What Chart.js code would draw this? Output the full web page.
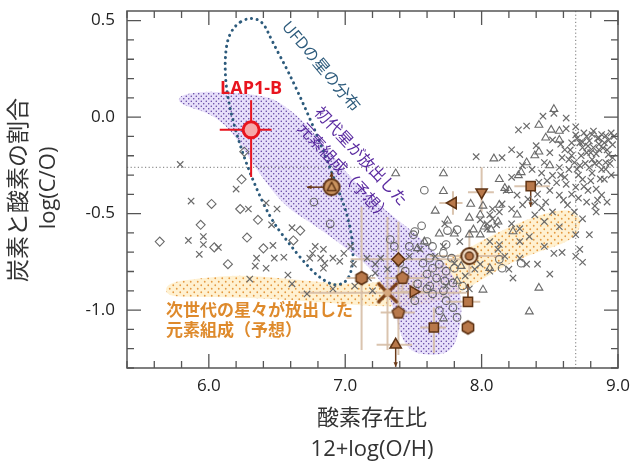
<!DOCTYPE html>
<html>
<head>
<meta charset="utf-8">
<script src="https://cdn.jsdelivr.net/npm/chart.js@4.4.1/dist/chart.umd.min.js"></script>
<style>
  html, body { margin: 0; padding: 0; background: #fff; }
  #wrap { width: 640px; height: 474px; }
</style>
</head>
<body>
<div id="wrap"><canvas id="c"></canvas></div>
<script>
// axis ticks
const xTickLabels = [6.0, 7.0, 8.0, 9.0];
const yTickLabels = [-1.0, -0.5, 0.0, 0.5];
const solarO = 8.69;
const solarCO = -0.26;

// gray comparison samples [12+log(O/H), log(C/O)]
const grayCross = [
  [5.79,-0.245],[5.87,-0.435],[6.20,-0.373],[6.29,-0.476],[5.85,-0.639],[5.96,-0.619],[5.96,-0.66],[5.93,-0.711],
  [6.07,-0.675],[6.42,-0.445],[6.50,-0.476],[6.46,-0.558],[6.61,-0.573],[6.47,-0.665],[6.35,-0.731],[6.34,-0.772],
  [6.42,-0.783],[6.48,-0.731],[6.55,-0.726],[6.30,-0.839],[6.58,-0.818],[6.61,-0.864],[6.72,-0.916],[6.76,-0.706],
  [6.78,-0.670],[6.84,-0.685],[6.91,-0.731],[6.99,-0.706],[7.04,-0.670],[6.84,-0.783],[6.74,-0.731],[6.91,-0.890],
  [6.82,-0.731],[6.85,-0.757],[6.96,-0.747],[7.06,-0.762],[7.16,-0.731],[7.22,-0.762],[7.26,-0.731],[7.22,-0.808],
  [7.17,-0.834],[7.31,-0.788],[7.20,-0.900],[7.07,-0.875],
  [7.96,-0.205],[8.27,-0.066],[8.33,-0.046],[8.45,0.005],[8.62,-0.005],[8.22,-0.169],[8.15,-0.210],[8.28,-0.194],
  [8.30,-0.251],[8.37,-0.271],[8.22,-0.312],[8.18,-0.379],[8.26,-0.404],[8.34,-0.425],[8.41,-0.399],[8.47,-0.440],
  [8.30,-0.455],[8.22,-0.476],[8.15,-0.450],[8.08,-0.476],[8.08,-0.527],[8.04,-0.553],[8.22,-0.553],[8.28,-0.578],
  [8.39,-0.506],[8.46,-0.542],[8.52,-0.491],[8.57,-0.404],[8.63,-0.455],[8.62,-0.348],[8.52,-0.302],[8.40,-0.148],
  [8.52,-0.118],[8.61,-0.169],[8.66,-0.199],[8.72,-0.251],[8.64,-0.271],[8.81,-0.220],[8.88,-0.271],[8.74,-0.322],
  [8.84,-0.373],[8.88,-0.404],[8.77,-0.440],[8.84,-0.491],[8.74,-0.527],[8.69,-0.609],[8.79,-0.609],[8.91,-0.097],
  [8.96,-0.143],[8.69,-0.092],[8.79,-0.123],[8.86,-0.169],[8.77,-0.184],[8.72,-0.133],[8.66,-0.133],
  [8.75,-0.082],[8.82,-0.072],[8.90,-0.133],[8.93,-0.194],[8.82,-0.158],[8.86,-0.235],[8.79,-0.261],[8.91,-0.235],
  [8.68,-0.235],[8.86,-0.107],[8.80,-0.184],[8.74,-0.158],[8.95,-0.082],[8.57,-0.261],[8.61,-0.312],[8.69,-0.363],
  [8.59,-0.210],[8.46,-0.235],[8.50,-0.184],[8.42,-0.338],[8.90,-0.322],[8.85,-0.430],[8.92,-0.440],[8.68,-0.491],
  [8.57,-0.568],[8.35,-0.619],[8.70,-0.11],[8.78,-0.15],[8.84,-0.19],[8.89,-0.16],[8.93,-0.12],[8.73,-0.20],
  [8.83,-0.24],[8.96,-0.21],[8.88,-0.09],[8.76,-0.24],[8.65,-0.17],[8.71,-0.30],[8.80,-0.33],[8.95,-0.30],
  [8.60,-0.43],[8.66,-0.40],[8.71,-0.42],[8.77,-0.10],[8.86,-0.14],[8.92,-0.17],[8.81,-0.29],[8.75,-0.36],
  [8.53,0.02],[8.58,-0.30],[8.48,-0.33],[8.36,-0.35],[8.44,-0.47],
  [8.62,-0.06],[8.69,-0.05],[8.74,-0.13],[8.85,-0.11],[8.91,-0.27],[8.87,-0.32],[8.78,-0.38],[8.83,-0.46],
  [8.64,-0.22],[8.70,-0.27],[8.94,-0.24],[8.81,-0.09],[8.97,-0.10],[8.58,-0.14],[8.55,-0.34],[8.50,-0.38],
  [8.44,-0.29],[8.39,-0.44],
  [8.53,-0.706],[8.59,-0.701],[8.72,-0.685],[8.74,-0.752],[8.69,-0.721],[8.41,-0.762],[8.50,-0.813],[8.23,-0.834],
  [8.28,-0.731],[8.33,-0.762],[8.17,-0.721],[8.13,-0.660],[7.99,-0.532],[8.06,-0.506],[8.13,-0.491],[8.11,-0.558],
  [8.04,-0.578],[8.12,-0.685],[7.99,-0.762],[8.06,-0.645],[7.73,-0.553],[7.84,-0.645],[7.93,-0.696],[7.72,-0.670],
  [7.55,-0.685],[7.47,-0.721],[7.66,-0.721],[7.80,-0.757],[8.28,-0.645],[8.46,-0.670],[8.20,-0.788],[8.06,-0.798],
  [7.95,-0.788],[7.88,-0.823],[7.91,-0.890],[7.74,-0.875],[7.91,-0.962]
];
const grayTriangle = [
  [7.37,-0.292],[7.72,-0.292],[7.72,-0.384],[7.66,-0.486],[7.92,-0.450],[8.01,-0.460],[7.75,-0.537],[8.53,0.041],
  [8.42,-0.041],[8.51,-0.066],[8.57,-0.072],[8.09,-0.215],[8.13,-0.322],[8.17,-0.368],[8.27,-0.302],[8.50,-0.251],
  [8.39,-0.199],[8.42,-0.179],[8.47,-0.107],[8.13,-0.455],[8.26,-0.506],[8.12,-0.542],[7.99,-0.506],[8.07,-0.583],
  [7.94,-0.583],[7.91,-0.522],[7.69,-0.604],[7.99,-0.609],[7.91,-0.609],[7.53,-0.680],[8.06,-0.783],[8.42,-0.885],
  [8.35,-1.008],[8.01,-0.895],[7.72,-1.044],[7.82,-0.849],[7.85,-0.772],[8.02,-0.568],[8.57,-0.118],[8.29,-0.286],
  [8.33,-0.235],[8.20,-0.379],[8.23,-0.593],[7.80,-0.604],[7.58,-0.645]
];
const grayCircle = [
  [7.58,-0.379],[7.56,-0.563],[6.77,-0.440],[6.89,-0.553],[7.50,-0.609],[7.60,-0.645],[7.64,-0.670],[7.75,-0.588],
  [7.82,-0.583],[7.74,-0.660],[7.72,-0.706],[7.78,-0.731],[7.57,-0.757],[7.64,-0.783],[7.69,-0.762],[7.74,-0.798],
  [7.80,-0.783],[7.67,-0.834],[7.73,-0.849],[7.79,-0.859],[7.62,-0.875],[7.86,-0.875],[8.13,-0.737],[8.15,-0.783],
  [7.47,-0.670],[7.62,-0.731],[7.60,-0.813],[7.53,-0.864],[7.60,-0.890],[7.64,-0.916],[7.72,-0.900],[7.74,-0.951],
  [7.69,-1.003],[7.79,-0.987],[7.82,-1.038],[8.29,-0.757],[7.36,-0.670],[7.40,-0.757],[7.33,-0.634],[7.44,-0.798],
  [7.51,-0.951],[7.51,-0.593]
];
const grayDiamond = [
  [5.64,-0.645],[6.02,-0.450],[5.94,-0.558],[6.04,-0.675],[6.23,-0.476],[6.36,-0.532],[6.28,-0.624],[6.24,-0.322],
  [6.26,-0.179],[6.14,-0.762],[6.40,-0.680],[6.67,-0.588],[6.62,-0.639]
];

// brown high-z / dwarf objects
const objX     = [6.90, 7.79, 8.00, 8.36, 7.91, 7.12, 7.39, 7.42, 7.31, 7.50, 7.39, 7.65, 7.37, 7.90, 7.90];
const objY     = [-0.363, -0.445, -0.389, -0.358, -0.72, -0.834, -0.737, -0.834, -0.910, -0.905, -1.013, -1.09, -1.18, -0.957, -1.09];
const objShape = ['circTri','triLeft','triDown','square','ring','hexagon','diamond','pentagon','bigX','triRight','pentagon','square','triUp','square','hexagon'];
const objXLo   = [null, 7.69, 7.90, 8.24, 7.62, 7.01, 7.04, 7.29, 6.67, 7.40, 7.26, 7.55, 7.23, 7.74, null];
const objXHi   = [null, 7.86, 8.09, 8.50, 8.17, 7.22, 7.84, 7.58, 7.89, 7.62, 7.51, 7.74, 7.49, 7.99, null];
const objYLo   = [null, -0.506, -0.49, null, -0.823, -1.207, -0.951, -0.90, -1.207, -0.95, -1.233, -1.222, null, null, null];
const objYHi   = [null, -0.384, -0.26, null, -0.593, -0.465, -0.542, -0.78, -0.517, -0.85, -0.951, -0.987, null, null, null];
const objXLimit = [6.72, null, null, null, null, null, null, null, null, null, null, null, null, null, null];
const objYLimit = [-0.286, null, null, -0.465, null, null, null, null, null, null, null, null, -1.294, -0.864, null];

// LAP1-B
const lapX = [6.31];
const lapY = [-0.066];
const lapXErr = [6.08, 6.46];
const lapYErr = [-0.31, 0.087];

// model regions
const popIIIBand = [
  [5.78,0.113],[5.94,0.133],[6.16,0.128],[6.38,0.113],[6.50,0.087],[6.69,-0.015],[6.89,-0.184],[7.07,-0.338],
  [7.26,-0.465],[7.47,-0.578],[7.66,-0.696],[7.80,-0.824],[7.86,-0.951],[7.84,-1.105],[7.78,-1.217],[7.62,-1.238],
  [7.44,-1.207],[7.36,-1.003],[7.29,-0.875],[7.15,-0.757],[6.96,-0.655],[6.76,-0.552],[6.56,-0.465],[6.39,-0.312],
  [6.27,-0.184],[6.16,-0.066],[6.01,0.020],[5.78,0.066]
];
const nextGenBand = [
  [5.686,-0.859],[5.942,-0.834],[6.234,-0.818],[6.599,-0.839],[6.964,-0.864],[7.255,-0.859],[7.547,-0.808],
  [7.766,-0.737],[7.985,-0.645],[8.204,-0.568],[8.423,-0.506],[8.606,-0.476],[8.715,-0.501],[8.730,-0.573],
  [8.642,-0.645],[8.423,-0.696],[8.204,-0.757],[7.985,-0.849],[7.766,-0.941],[7.547,-0.977],[7.255,-0.982],
  [6.964,-0.967],[6.672,-0.951],[6.307,-0.936],[5.942,-0.931],[5.686,-0.931]
];
const ufdOutline = [
  [6.285,0.517],[6.394,0.501],[6.467,0.389],[6.584,0.235],[6.708,0.046],[6.832,-0.159],[6.942,-0.363],
  [7.022,-0.517],[7.066,-0.696],[7.036,-0.839],[6.934,-0.880],[6.803,-0.829],[6.693,-0.747],[6.577,-0.645],
  [6.453,-0.527],[6.328,-0.338],[6.234,-0.159],[6.161,0.020],[6.117,0.199],[6.124,0.379],[6.182,0.471]
];

const GRAY = '#6a6a6a';
const BROWN_FILL = '#b8784a';
const BROWN_LINE = '#5e3314';
const TAN = 'rgba(214,190,166,0.9)';
const RED = '#e8151f';
const JP = '"Open Sans", "Noto Sans CJK JP", sans-serif';

function makeMarker(kind) {
  const s = 24, c = document.createElement('canvas');
  c.width = s; c.height = s;
  const g = c.getContext('2d');
  const m = s / 2;
  g.lineJoin = 'round';
  g.fillStyle = BROWN_FILL; g.strokeStyle = BROWN_LINE; g.lineWidth = 1.5;
  if (kind === 'hexagon' || kind === 'pentagon') {
    const n = kind === 'hexagon' ? 6 : 5, r = 6.5;
    g.beginPath();
    for (let i = 0; i < n; i++) {
      const a = -Math.PI / 2 + i * 2 * Math.PI / n;
      g.lineTo(m + r * Math.cos(a), m + r * Math.sin(a));
    }
    g.closePath(); g.fill(); g.stroke();
  } else if (kind === 'ring') {
    g.fillStyle = '#f1dcc6';
    g.lineWidth = 2;
    g.beginPath(); g.arc(m, m, 8, 0, Math.PI * 2); g.fill(); g.stroke();
    g.fillStyle = BROWN_FILL; g.lineWidth = 1.5;
    g.beginPath(); g.arc(m, m, 4, 0, Math.PI * 2); g.fill(); g.stroke();
  } else if (kind === 'circTri') {
    g.fillStyle = '#c9935f';
    g.lineWidth = 2;
    g.beginPath(); g.arc(m, m, 8, 0, Math.PI * 2); g.fill(); g.stroke();
    g.lineWidth = 1.5;
    g.beginPath(); g.moveTo(m, m - 5); g.lineTo(m + 4.5, m + 3.5); g.lineTo(m - 4.5, m + 3.5); g.closePath(); g.stroke();
  } else if (kind === 'bigX') {
    g.strokeStyle = '#7a3f17'; g.lineWidth = 3.2; g.lineCap = 'round';
    g.beginPath(); g.moveTo(m - 9, m - 9); g.lineTo(m + 9, m + 9); g.moveTo(m + 9, m - 9); g.lineTo(m - 9, m + 9); g.stroke();
    g.fillStyle = '#d7a97f'; g.lineWidth = 1;
    g.beginPath(); g.arc(m, m, 3.5, 0, Math.PI * 2); g.fill();
  }
  return c;
}
const markers = {
  hexagon: makeMarker('hexagon'), pentagon: makeMarker('pentagon'),
  ring: makeMarker('ring'), circTri: makeMarker('circTri'), bigX: makeMarker('bigX')
};
const builtin = {
  triLeft: ['triangle', -90], triDown: ['triangle', 180], triRight: ['triangle', 90], triUp: ['triangle', 0],
  square: ['rect', 0], diamond: ['rectRot', 0]
};

function pickLabel(list, v) {
  const t = list.find(t => Math.abs(t - v) < 1e-6);
  return t === undefined ? '' : t.toFixed(1);
}

function smoothClosed(ctx, pts) {
  const n = pts.length;
  const mid = (a, b) => [(a[0] + b[0]) / 2, (a[1] + b[1]) / 2];
  const start = mid(pts[n - 1], pts[0]);
  ctx.beginPath();
  ctx.moveTo(start[0], start[1]);
  for (let i = 0; i < n; i++) {
    const p = pts[i], q = pts[(i + 1) % n], mm = mid(p, q);
    ctx.quadraticCurveTo(p[0], p[1], mm[0], mm[1]);
  }
  ctx.closePath();
}

function dotPattern(ctx, bg, dot, step, r) {
  const c = document.createElement('canvas');
  c.width = step; c.height = step;
  const g = c.getContext('2d');
  g.fillStyle = bg; g.fillRect(0, 0, step, step);
  g.fillStyle = dot;
  g.beginPath(); g.arc(step * 0.25, step * 0.25, r, 0, Math.PI * 2); g.fill();
  g.beginPath(); g.arc(step * 0.75, step * 0.75, r, 0, Math.PI * 2); g.fill();
  return ctx.createPattern(c, 'repeat');
}

function arrow(ctx, x0, y0, x1, y1) {
  const a = Math.atan2(y1 - y0, x1 - x0), h = 5;
  ctx.beginPath(); ctx.moveTo(x0, y0); ctx.lineTo(x1, y1); ctx.stroke();
  ctx.beginPath();
  ctx.moveTo(x1, y1);
  ctx.lineTo(x1 - h * Math.cos(a - 0.45), y1 - h * Math.sin(a - 0.45));
  ctx.lineTo(x1 - h * Math.cos(a + 0.45), y1 - h * Math.sin(a + 0.45));
  ctx.closePath(); ctx.fill();
}

const overlay = {
  id: 'overlay',
  beforeDatasetsDraw(chart) {
    const {ctx, chartArea: a, scales: {x, y}} = chart;
    const P = p => [x.getPixelForValue(p[0]), y.getPixelForValue(p[1])];
    ctx.save();
    ctx.beginPath(); ctx.rect(a.left, a.top, a.right - a.left, a.bottom - a.top); ctx.clip();

    smoothClosed(ctx, nextGenBand.map(P));
    ctx.fillStyle = dotPattern(ctx, 'rgba(255,230,172,0.55)', '#e49a42', 7, 0.9);
    ctx.fill();

    smoothClosed(ctx, popIIIBand.map(P));
    ctx.fillStyle = dotPattern(ctx, 'rgba(222,210,248,0.72)', '#4d2f94', 5, 0.7);
    ctx.fill();

    // solar reference
    ctx.strokeStyle = '#777'; ctx.lineWidth = 1; ctx.setLineDash([1.2, 2.4]);
    const ys = y.getPixelForValue(solarCO), xs = x.getPixelForValue(solarO);
    ctx.beginPath(); ctx.moveTo(a.left, ys); ctx.lineTo(a.right, ys);
    ctx.moveTo(xs, a.top); ctx.lineTo(xs, a.bottom); ctx.stroke();

    // UFD stars outline
    smoothClosed(ctx, ufdOutline.map(P));
    ctx.strokeStyle = '#2d5b7c'; ctx.lineWidth = 3; ctx.lineCap = 'round';
    ctx.setLineDash([0.1, 5.6]);
    ctx.stroke();
    ctx.setLineDash([]); ctx.lineCap = 'butt';

    // error bars
    ctx.strokeStyle = TAN; ctx.lineWidth = 2;
    objX.forEach((v, i) => {
      const px = x.getPixelForValue(v), py = y.getPixelForValue(objY[i]);
      ctx.beginPath();
      if (objXLo[i] !== null) { ctx.moveTo(x.getPixelForValue(objXLo[i]), py); ctx.lineTo(x.getPixelForValue(objXHi[i]), py); }
      if (objYLo[i] !== null) { ctx.moveTo(px, y.getPixelForValue(objYLo[i])); ctx.lineTo(px, y.getPixelForValue(objYHi[i])); }
      ctx.stroke();
    });
    ctx.strokeStyle = '#6b3a18'; ctx.fillStyle = '#6b3a18'; ctx.lineWidth = 1.5;
    objX.forEach((v, i) => {
      const px = x.getPixelForValue(v), py = y.getPixelForValue(objY[i]);
      if (objXLimit[i] !== null) arrow(ctx, px, py, x.getPixelForValue(objXLimit[i]), py);
      if (objYLimit[i] !== null) arrow(ctx, px, py, px, y.getPixelForValue(objYLimit[i]));
    });

    // LAP1-B error bars
    ctx.strokeStyle = RED; ctx.lineWidth = 2;
    const lx = x.getPixelForValue(lapX[0]), ly = y.getPixelForValue(lapY[0]);
    ctx.beginPath();
    ctx.moveTo(x.getPixelForValue(lapXErr[0]), ly); ctx.lineTo(x.getPixelForValue(lapXErr[1]), ly);
    ctx.moveTo(lx, y.getPixelForValue(lapYErr[0])); ctx.lineTo(lx, y.getPixelForValue(lapYErr[1]));
    ctx.stroke();
    ctx.restore();
  },
  afterDatasetsDraw(chart) {
    const {ctx, scales: {x, y}} = chart;
    ctx.save();
    const rotText = (lines, cx, cy, deg, color, font, gap) => {
      ctx.save();
      ctx.translate(x.getPixelForValue(cx), y.getPixelForValue(cy));
      ctx.rotate(deg * Math.PI / 180);
      ctx.fillStyle = color; ctx.font = font;
      ctx.textAlign = 'center'; ctx.textBaseline = 'middle';
      lines.forEach((t, i) => ctx.fillText(t, 0, (i - (lines.length - 1) / 2) * gap));
      ctx.restore();
    };
    rotText(['UFDの星の分布'], 6.82, 0.261, 50, '#2d5b7c', '16px ' + JP, 0);
    rotText(['初代星が放出した', '元素組成（予想）'], 7.05, -0.246, 47, '#5a2aa0', '16px ' + JP, 23);

    ctx.fillStyle = '#de8a2c'; ctx.font = '600 17px ' + JP;
    ctx.textAlign = 'left'; ctx.textBaseline = 'middle';
    ctx.fillText('次世代の星々が放出した', x.getPixelForValue(5.686), y.getPixelForValue(-1.003));
    ctx.fillText('元素組成（予想）', x.getPixelForValue(5.686), y.getPixelForValue(-1.108));

    ctx.fillStyle = RED; ctx.font = 'bold 18px "Open Sans", sans-serif'; ctx.textAlign = 'center';
    ctx.fillText('LAP1-B', x.getPixelForValue(6.31), y.getPixelForValue(0.145));
    ctx.restore();
  },
  afterDraw(chart) {
    const {ctx, chartArea: a, scales: {x, y}} = chart;
    ctx.save();
    ctx.strokeStyle = '#555'; ctx.lineWidth = 1.5;
    ctx.strokeRect(a.left, a.top, a.right - a.left, a.bottom - a.top);
    ctx.lineWidth = 1.3;
    ctx.beginPath();
    x.ticks.forEach(t => {
      const v = t.value;
      if (Math.abs(v / 0.2 - Math.round(v / 0.2)) > 1e-3) return;
      const len = xTickLabels.some(m => Math.abs(m - v) < 1e-6) ? 14 : 7;
      const px = x.getPixelForValue(v);
      ctx.moveTo(px, a.bottom); ctx.lineTo(px, a.bottom - len);
      ctx.moveTo(px, a.top); ctx.lineTo(px, a.top + len);
    });
    y.ticks.forEach(t => {
      const v = t.value;
      if (Math.abs(v / 0.1 - Math.round(v / 0.1)) > 1e-3) return;
      const len = yTickLabels.some(m => Math.abs(m - v) < 1e-6) ? 14 : 7;
      const py = y.getPixelForValue(v);
      ctx.moveTo(a.left, py); ctx.lineTo(a.left + len, py);
      ctx.moveTo(a.right, py); ctx.lineTo(a.right - len, py);
    });
    ctx.stroke();

    // axis titles
    ctx.fillStyle = '#333'; ctx.textAlign = 'center'; ctx.textBaseline = 'middle';
    ctx.font = '22px ' + JP;
    ctx.fillText('酸素存在比', 372, 419);
    ctx.fillText('12+log(O/H)', 372, 450);
    ctx.save();
    ctx.translate(19, 190); ctx.rotate(-Math.PI / 2);
    ctx.font = '23px ' + JP;
    ctx.fillText('炭素と酸素の割合', 0, 0);
    ctx.restore();
    ctx.save();
    ctx.translate(49, 188); ctx.rotate(-Math.PI / 2);
    ctx.font = '22px ' + JP;
    ctx.fillText('log(C/O)', 0, 0);
    ctx.restore();
    ctx.restore();
  }
};

const toPts = arr => arr.map(p => ({x: p[0], y: p[1]}));

new Chart(document.getElementById('c'), {
  type: 'scatter',
  data: {
    datasets: [
      {
        data: lapX.map((v, i) => ({x: v, y: lapY[i]})),
        pointStyle: 'circle', pointRadius: 8,
        backgroundColor: '#f6a9a9', borderColor: RED, borderWidth: 3
      },
      {
        data: objX.map((v, i) => ({x: v, y: objY[i]})),
        pointStyle: c => markers[objShape[c.dataIndex]] || builtin[objShape[c.dataIndex]][0],
        rotation: c => builtin[objShape[c.dataIndex]] ? builtin[objShape[c.dataIndex]][1] : 0,
        pointRadius: 6.5,
        backgroundColor: BROWN_FILL, borderColor: BROWN_LINE, borderWidth: 1.5
      },
      {
        data: toPts(grayCross), pointStyle: 'crossRot', pointRadius: 4.5,
        borderColor: GRAY, backgroundColor: GRAY, borderWidth: 1.2
      },
      {
        data: toPts(grayTriangle), pointStyle: 'triangle', pointRadius: 4.5,
        borderColor: GRAY, backgroundColor: 'rgba(255,255,255,0)', borderWidth: 1.1
      },
      {
        data: toPts(grayCircle), pointStyle: 'circle', pointRadius: 3.8,
        borderColor: GRAY, backgroundColor: 'rgba(255,255,255,0)', borderWidth: 1.1
      },
      {
        data: toPts(grayDiamond), pointStyle: 'rectRot', pointRadius: 4.5,
        borderColor: GRAY, backgroundColor: 'rgba(255,255,255,0)', borderWidth: 1.1
      }
    ]
  },
  options: {
    responsive: true,
    maintainAspectRatio: false,
    animation: false,
    layout: { padding: { top: 4, right: 22, left: 0, bottom: 0 } },
    plugins: { legend: { display: false }, tooltip: { enabled: false } },
    scales: {
      x: {
        type: 'linear', min: 5.4, max: 9.0,
        grid: { display: false, drawTicks: false },
        border: { display: false },
        ticks: {
          stepSize: 0.2, includeBounds: false, autoSkip: false, maxRotation: 0, padding: 8,
          color: '#222', font: { family: '"Open Sans"', size: 17 },
          callback: v => pickLabel(xTickLabels, v)
        },
        afterFit: s => { s.height = 106; s.paddingLeft = 0; s.paddingRight = 0; }
      },
      y: {
        type: 'linear', min: -1.3, max: 0.55,
        grid: { display: false, drawTicks: false },
        border: { display: false },
        ticks: {
          stepSize: 0.1, includeBounds: false, autoSkip: false, padding: 12,
          color: '#222', font: { family: '"Open Sans"', size: 17 },
          callback: v => pickLabel(yTickLabels, v)
        },
        afterFit: s => { s.width = 127; s.paddingTop = 0; s.paddingBottom = 0; }
      }
    }
  },
  plugins: [overlay]
});
</script>
</body>
</html>
